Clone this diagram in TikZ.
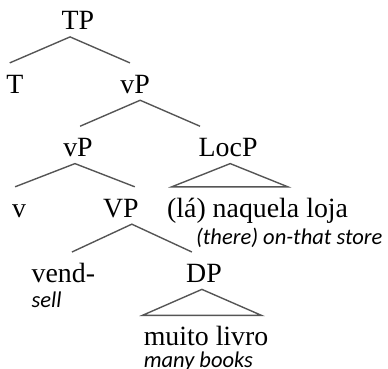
\documentclass[tikz,border=0pt]{standalone}
\usepackage{fontspec}
\setmainfont{Liberation Serif}
\newfontfamily\glossfont{Carlito}
\usetikzlibrary{positioning}
\definecolor{linegray}{RGB}{85,85,85}

\begin{document}
\begin{tikzpicture}[
			node distance=11.2pt,
			cat/.style={inner sep=0pt, text height=12.9pt, text depth=2.8pt, font=\fontsize{12}{14}\selectfont},
			gloss/.style={inner sep=0pt, anchor=base west, font=\glossfont\itshape\fontsize{9.7}{11}\selectfont},
			branch/.style={draw=linegray, line width=0.6pt}
			]
			\useasboundingbox (0,0) rectangle (167.2pt,-158.6pt);
			\node[cat, anchor=base] (TP) at (33.6pt,-12.9pt) {TP};
			\node[cat, below=of TP, xshift=-27.2pt] (T) {T};
			\node[cat, below=of TP, xshift=24.6pt] (vP) {vP};
			\node[cat, below=of vP, xshift=-24.6pt] (vPlow) {vP};
			\node[cat, below=of vP, xshift=40.1pt] (LocP) {LocP};
			\node[cat, below=10pt of vPlow, xshift=-25.4pt] (v) {v};
			\node[cat, below=10pt of vPlow, xshift=18.5pt] (VP) {VP};
			\node[cat, below=10pt of LocP, xshift=12.7pt] (loja) {(lá) naquela loja};
			\node[cat, below=12pt of VP, xshift=-24.8pt] (vend) {vend-};
			\node[cat, below=12pt of VP, xshift=35.8pt] (DP) {DP};
			\node[cat, below=of DP, xshift=0.9pt] (muito) {muito livro};
			\node[gloss] (there) at ([xshift=12.5pt, yshift=-11.6pt]loja.base west) {(there) on-that store};
			\node[gloss] (sell) at ([yshift=-10.8pt]vend.base west) {sell};
			\node[gloss] (many) at ([yshift=-9.5pt]muito.base west) {many books};
			\draw[branch] ([xshift=-2.2pt]T.north) -- ([xshift=-3.4pt]TP.south) -- ([xshift=-2.2pt]vP.north);
			\draw[branch] ([xshift=0.9pt]vPlow.north) -- ([xshift=2.2pt]vP.south) -- ([xshift=-12.1pt]LocP.north);
			\draw[branch] ([xshift=-1.7pt]v.north) -- ([xshift=-1.3pt]vPlow.south) -- ([xshift=6pt]VP.north);
			\draw[branch] ([xshift=3.7pt]vend.north) -- ([xshift=4.7pt]VP.south) -- ([xshift=-5.2pt]DP.north);
			\draw[branch] ([xshift=0.9pt]LocP.south) -- ([xshift=2.2pt]loja.north west) -- ([xshift=52.2pt]loja.north west) -- cycle;
			\draw[branch] ([xshift=-0.9pt]DP.south) -- ([xshift=-0.4pt]muito.north west) -- ([xshift=50.9pt]muito.north west) -- cycle;
		\end{tikzpicture}
\end{document}
